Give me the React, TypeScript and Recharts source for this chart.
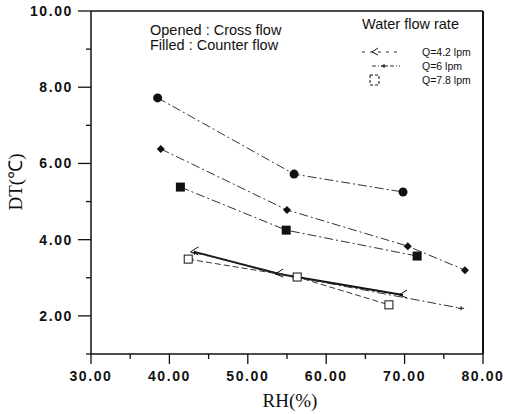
import { LineChart, Line, XAxis, YAxis, ReferenceLine } from "recharts";

// RH (%) and DT (°C)
const rhCounter42 = [38.5, 55.9, 69.8];
const dtCounter42 = [7.72, 5.72, 5.25];
const rhCounter6 = [38.9, 55.0, 70.4, 77.7];
const dtCounter6 = [6.38, 4.78, 3.83, 3.2];
const rhCounter78 = [41.4, 54.9, 71.6];
const dtCounter78 = [5.38, 4.25, 3.57];
const rhCross42 = [43.2, 54.0, 69.8];
const dtCross42 = [3.68, 3.1, 2.55];
const rhCross6 = [43.2, 56.0, 77.2];
const dtCross6 = [3.66, 3.02, 2.2];
const rhCross78 = [42.4, 56.3, 68.0];
const dtCross78 = [3.49, 3.02, 2.29];

const xTicks = [30, 35, 40, 45, 50, 55, 60, 65, 70, 75, 80];
const yTicks = [1, 2, 3, 4, 5, 6, 7, 8, 9, 10];
const xLabels = [30, 40, 50, 60, 70, 80];
const yLabels = [2, 4, 6, 8, 10];

const legendItems = ["Q=4.2 lpm", "Q=6 lpm", "Q=7.8 lpm"];

const zip = (xs: number[], ys: number[]) => xs.map((x, i) => ({ x, y: ys[i] }));

const ink = "#111";
const sans = "Liberation Sans, Arial, sans-serif";
const tickFont = { fontFamily: sans, fontSize: 14, fontWeight: 700, letterSpacing: 1.6, fill: ink };

const XTick = (p: any) => {
  const v = p.payload.value;
  const major = xLabels.includes(v);
  return (
    <g>
      <line x1={p.x} x2={p.x} y1={p.y} y2={p.y + (major ? 10 : 5)} stroke={ink} strokeWidth={1.3} />
      {major && (
        <text x={p.x} y={p.y + 27} textAnchor="middle" style={tickFont}>
          {v.toFixed(2)}
        </text>
      )}
    </g>
  );
};

const YTick = (p: any) => {
  const v = p.payload.value;
  const major = yLabels.includes(v);
  return (
    <g>
      <line x1={p.x - (major ? 13 : 5)} x2={p.x} y1={p.y} y2={p.y} stroke={ink} strokeWidth={1.3} />
      {major && (
        <text x={p.x - 18} y={p.y + 5} textAnchor="end" style={tickFont}>
          {v.toFixed(2)}
        </text>
      )}
    </g>
  );
};

const Circle = (p: any) => <circle key={p.index} cx={p.cx} cy={p.cy} r={4.5} fill={ink} />;
const Diamond = (p: any) => (
  <polygon key={p.index} points={`${p.cx},${p.cy - 4} ${p.cx + 4},${p.cy} ${p.cx},${p.cy + 4} ${p.cx - 4},${p.cy}`} fill={ink} />
);
const Square = (p: any) => <rect key={p.index} x={p.cx - 4.5} y={p.cy - 4.5} width={9} height={9} fill={ink} />;
const OpenSquare = (p: any) => (
  <rect key={p.index} x={p.cx - 4} y={p.cy - 4} width={8} height={8} fill="#fff" stroke={ink} strokeWidth={1} />
);
const Arrow = (p: any) => (
  <path key={p.index} d={`M${p.cx + 4},${p.cy - 5} L${p.cx - 4},${p.cy} L${p.cx + 4},${p.cy + 3}`} fill="none" stroke={ink} strokeWidth={1} />
);
const TickMark = (p: any) => (
  <path key={p.index} d={`M${p.cx - 3},${p.cy} L${p.cx + 3},${p.cy} M${p.cx},${p.cy - 2} L${p.cx},${p.cy + 2}`} stroke={ink} strokeWidth={1} />
);

const dashDot = "9 3 2 3";

export default function App() {
  return (
    <div style={{ position: "absolute", left: 0, top: 0, width: 505, height: 414, background: "#fff" }}>
      <LineChart width={505} height={414} margin={{ top: 11, right: 22, bottom: 30, left: 0 }}>
        <XAxis
          type="number"
          dataKey="x"
          domain={[30, 80]}
          ticks={xTicks}
          interval={0}
          height={30}
          tickSize={0}
          tickMargin={0}
          tickLine={false}
          tick={<XTick />}
          axisLine={{ stroke: ink, strokeWidth: 1.5 }}
          allowDuplicatedCategory={false}
        />
        <YAxis
          type="number"
          dataKey="y"
          domain={[1, 10]}
          ticks={yTicks}
          interval={0}
          width={91}
          tickSize={0}
          tickMargin={0}
          tickLine={false}
          tick={<YTick />}
          axisLine={{ stroke: ink, strokeWidth: 1.5 }}
        />
        <ReferenceLine y={10} stroke={ink} strokeWidth={1.5} />
        <ReferenceLine x={80} stroke={ink} strokeWidth={2} />
        <Line data={zip(rhCounter42, dtCounter42)} dataKey="y" stroke="#333" strokeWidth={1} strokeDasharray={dashDot} dot={<Circle />} isAnimationActive={false} />
        <Line data={zip(rhCounter6, dtCounter6)} dataKey="y" stroke="#333" strokeWidth={1} strokeDasharray={dashDot} dot={<Diamond />} isAnimationActive={false} />
        <Line data={zip(rhCounter78, dtCounter78)} dataKey="y" stroke="#333" strokeWidth={1} strokeDasharray={dashDot} dot={<Square />} isAnimationActive={false} />
        <Line data={zip(rhCross42, dtCross42)} dataKey="y" stroke={ink} strokeWidth={2} dot={<Arrow />} isAnimationActive={false} />
        <Line data={zip(rhCross6, dtCross6)} dataKey="y" stroke="#333" strokeWidth={1} strokeDasharray={dashDot} dot={<TickMark />} isAnimationActive={false} />
        <Line data={zip(rhCross78, dtCross78)} dataKey="y" stroke="#333" strokeWidth={1} strokeDasharray="6 3" dot={<OpenSquare />} isAnimationActive={false} />
      </LineChart>

      <div style={{ position: "absolute", left: -20, width: 70, top: 182, transform: "translate(0,-50%) rotate(-90deg)", transformOrigin: "center", fontFamily: "Liberation Serif, serif", fontSize: 19, color: ink, textAlign: "center", whiteSpace: "nowrap" }}>
        DT(℃)
      </div>
      <div style={{ position: "absolute", left: 240, top: 390, width: 100, textAlign: "center", fontFamily: "Liberation Serif, serif", fontSize: 19, color: ink }}>
        RH(%)
      </div>

      <div style={{ position: "absolute", left: 150, top: 23, fontFamily: sans, fontSize: 14.5, lineHeight: "15px", color: ink }}>
        Opened : Cross flow
        <br />
        Filled : Counter flow
      </div>

      <div style={{ position: "absolute", left: 362, top: 16, fontFamily: sans, fontSize: 14.5, color: ink }}>
        Water flow rate
      </div>
      {legendItems.map((t, i) => (
        <div key={t} style={{ position: "absolute", left: 360, top: 45 + i * 14, height: 14, display: "flex", alignItems: "center", fontFamily: sans, fontSize: 10.5, color: ink }}>
          <svg width={55} height={14}>
            {i === 0 && (
              <g>
                <line x1={2} x2={40} y1={7} y2={7} stroke="#333" strokeDasharray="3 5" />
                <path d="M18,3 L12,7 L18,10" fill="none" stroke={ink} />
              </g>
            )}
            {i === 1 && (
              <g>
                <line x1={12} x2={40} y1={7} y2={7} stroke="#333" strokeDasharray="4 2 1 2" />
                <path d="M21,7 L27,7 M24,5 L24,9" stroke={ink} />
              </g>
            )}
            {i === 2 && <rect x={10} y={2} width={9} height={10} fill="#fff" stroke={ink} strokeDasharray="3 2" />}
          </svg>
          <span style={{ marginLeft: 7 }}>{t}</span>
        </div>
      ))}
    </div>
  );
}
